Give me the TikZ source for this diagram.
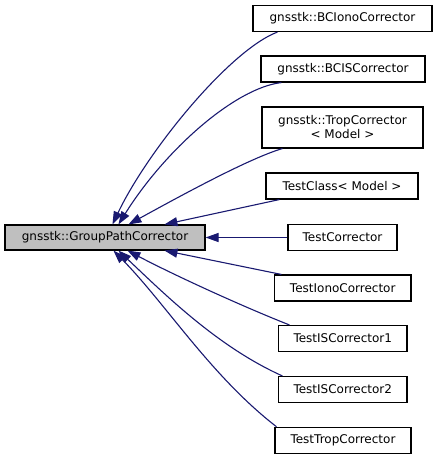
\documentclass[tikz,border=0pt]{standalone}
\usepackage{fontspec}
\setmainfont{DejaVu Sans}
\usetikzlibrary{arrows.meta}
\definecolor{edgeblue}{HTML}{191970}
\definecolor{basegray}{HTML}{BFBFBF}
\begin{document}
\begin{tikzpicture}[x=1pt,y=-1pt,
  cls/.style={draw=black,line width=1.1pt,fill=white,inner sep=0pt,minimum height=26pt,align=center,font=\fontsize{12}{14}\selectfont},
  edge/.style={draw=edgeblue,line width=1.1pt,-{Triangle[length=13pt,width=9pt,fill=edgeblue]}}]
\useasboundingbox (0,0) rectangle (437,459);
\node[cls,fill=basegray,minimum width=200pt,minimum height=25pt] (base) at (105,237.5) {gnsstk::GroupPathCorrector};
\node[cls,minimum width=179pt] (n1) at (342.5,18.5) {gnsstk::BCIonoCorrector};
\node[cls,minimum width=164pt] (n2) at (343,69) {gnsstk::BCISCorrector};
\node[cls,minimum width=161pt,minimum height=41pt] (n3) at (342.5,127.5) {gnsstk::TropCorrector\\< Model >};
\node[cls,minimum width=152pt] (n4) at (342,186) {TestClass< Model >};
\node[cls,minimum width=109pt] (n5) at (342.5,237.5) {TestCorrector};
\node[cls,minimum width=136.5pt] (n6) at (342.75,288) {TestIonoCorrector};
\node[cls,minimum width=128.5pt] (n7) at (342.75,338.5) {TestISCorrector1};
\node[cls,minimum width=128.5pt] (n8) at (342.75,389.5) {TestISCorrector2};
\node[cls,minimum width=136pt] (n9) at (343,440.25) {TestTropCorrector};
% upper edges
\draw[edge] ([xshift=25pt]n1.south west) .. controls (230,50) and (148,150) .. ([xshift=108pt]base.north west);
\draw[edge] ([xshift=21pt]n2.south west) .. controls (235,88) and (165,150) .. ([xshift=114pt]base.north west);
\draw[edge] ([xshift=21pt]n3.south west) .. controls (250,158) and (182,195) .. ([xshift=124pt]base.north west);
\draw[edge] ([xshift=14pt]n4.south west) -- ([xshift=160pt]base.north west);
\draw[edge] (n5.west) -- (base.east);
% lower edges
\draw[edge] ([xshift=7.5pt]n6.north west) -- ([xshift=160pt]base.south west);
\draw[edge] ([xshift=11.5pt]n7.north west) .. controls (239,305) and (172,274) .. ([xshift=123pt]base.south west);
\draw[edge] ([xshift=4.5pt]n8.north west) .. controls (218,347) and (165.5,295) .. ([xshift=114pt]base.south west);
\draw[edge] ([xshift=2pt]n9.north west) .. controls (211,376) and (166,304) .. ([xshift=109pt]base.south west);
\end{tikzpicture}
\end{document}
